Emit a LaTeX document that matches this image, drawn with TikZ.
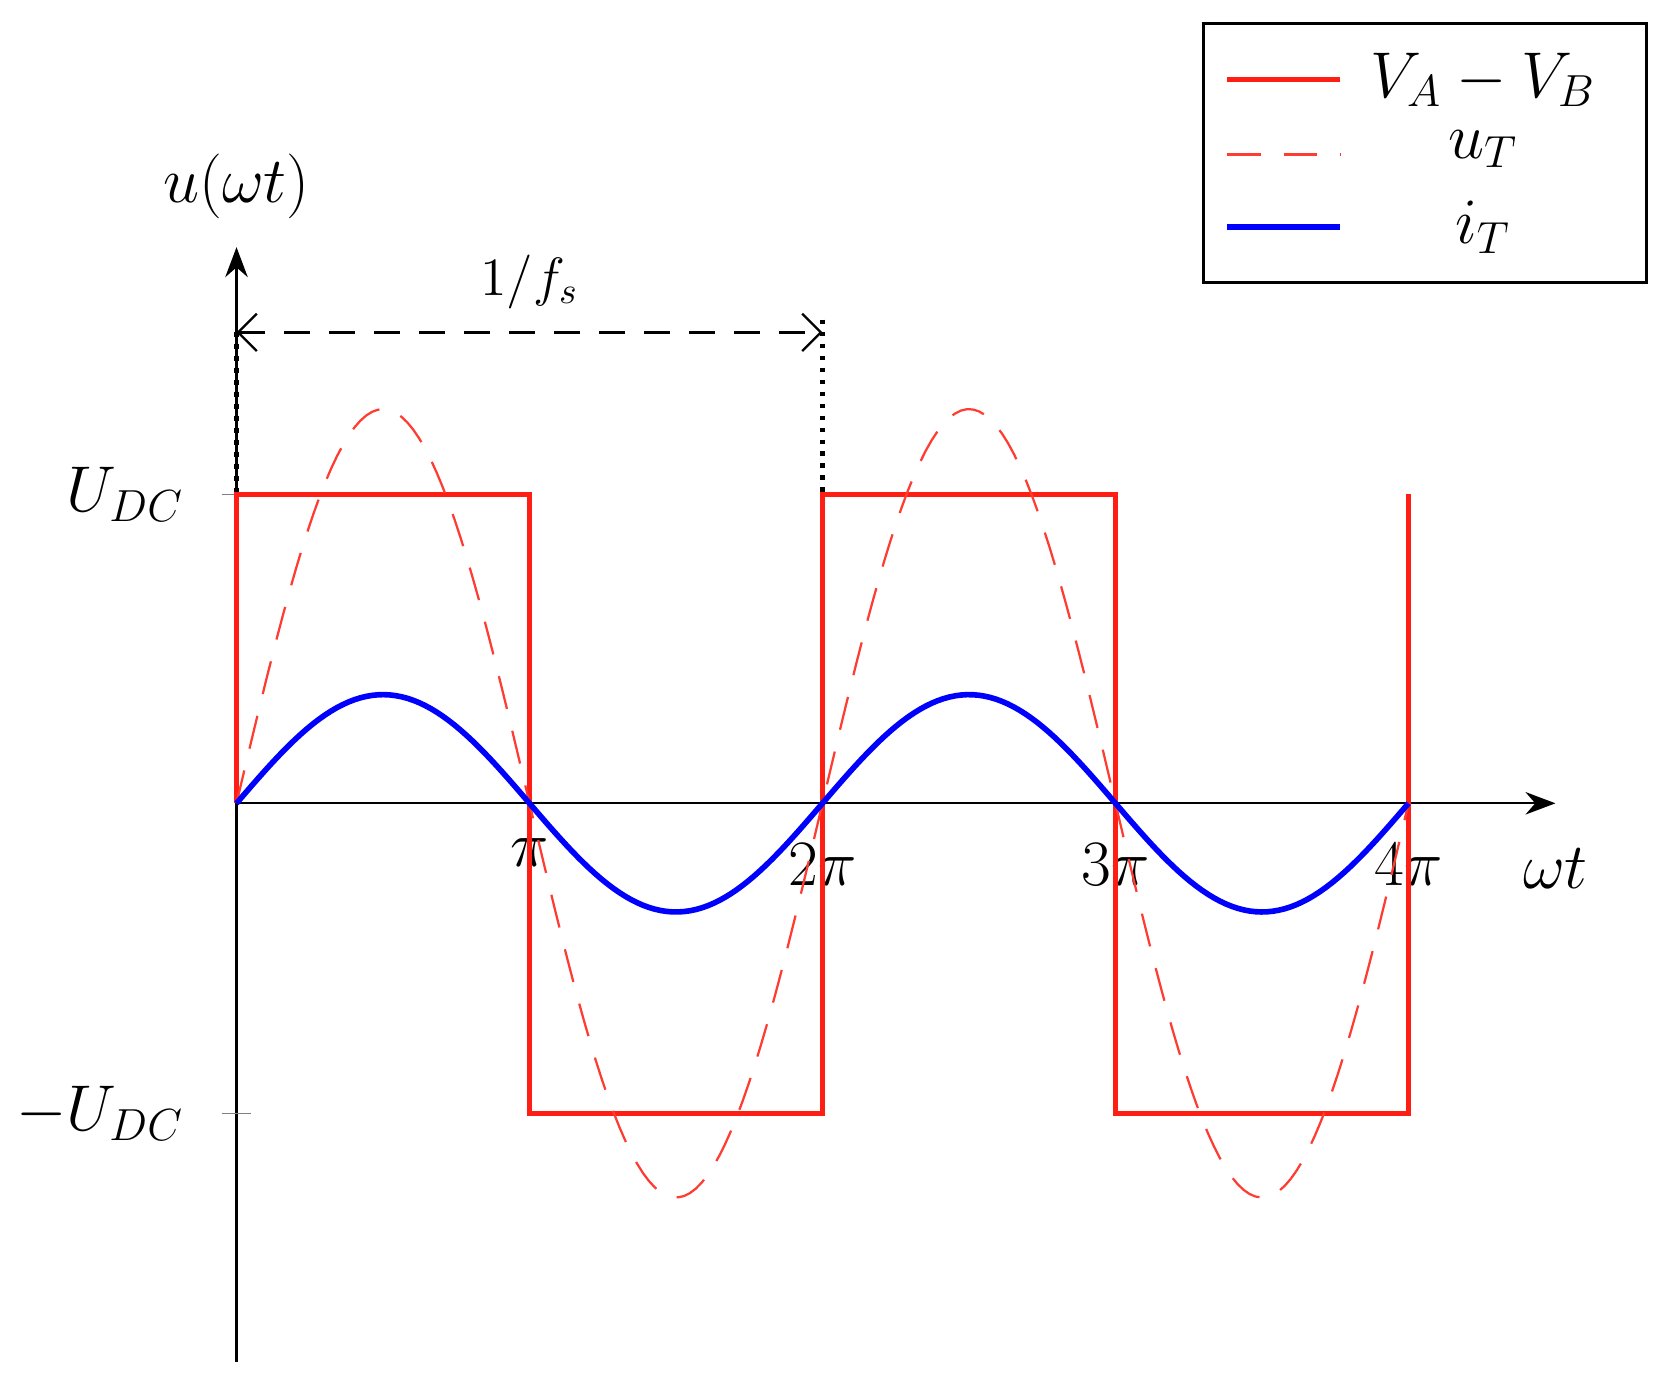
\documentclass[tikz,border=0pt]{standalone}
\usetikzlibrary{arrows.meta}
\begin{document}
\begin{tikzpicture}[x=0.01cm,y=-0.01cm,
  lbl/.style={font=\fontsize{17}{20}\selectfont},
  sq/.style={red!90!black!80!red,line width=1.3pt,color={rgb,255:red,255;green,30;blue,20}},
  ut/.style={color={rgb,255:red,255;green,60;blue,50},dashed,dash pattern=on 9pt off 6pt,line width=0.6pt},
  it/.style={blue,line width=1.5pt}]
\useasboundingbox (0,0) rectangle (1560,1291);
% axes
\coordinate (o) at (222,754);
\coordinate (yb) at (222,1278);
\coordinate (yt) at (222,232);
\coordinate (xe) at (1460,754);
\draw[-{Stealth[length=8pt]},line width=0.6pt] (yb) -- (yt);
\draw[-{Stealth[length=8pt]},line width=0.6pt] (o) -- (xe);
\node[lbl] (yl) at (222,175) {$u(\omega t)$};
\node[lbl] (xl) at (1460,815) {$\omega t$};
\node[lbl] (p1) at (497,800) {$\pi$};
\node[lbl] (p2) at (772,812) {$2\pi$};
\node[lbl] (p3) at (1047,812) {$3\pi$};
\node[lbl] (p4) at (1322,812) {$4\pi$};
\draw[gray,line width=0.4pt] (208,464) -- (236,464);
\draw[gray,line width=0.4pt] (208,1045) -- (236,1045);
\node[lbl,anchor=east] (u1) at (185,464) {$U_{DC}$};
\node[lbl,anchor=east] (u2) at (185,1045) {$-U_{DC}$};
% period marker
\coordinate (d1) at (222,312);
\coordinate (d2) at (772,312);
\draw[dashed,dash pattern=on 7pt off 5pt,{Straight Barb[length=5pt]}-{Straight Barb[length=5pt]},line width=0.6pt] (d1) -- (d2);
\node[font=\fontsize{14}{17}\selectfont] (fs) at (497,265) {$1/f_s$};
\draw[dotted,line width=1.2pt] (222,312) -- (222,754);
\draw[dotted,line width=1.2pt] (772,300) -- (772,754);
% square wave
\draw[sq] (222,754) -- (222,464) -- (497,464) -- (497,1045) -- (772,1045) -- (772,464) -- (1047,464) -- (1047,1045) -- (1322,1045) -- (1322,464);
% dashed sine
\draw[ut] plot[domain=0:1100,samples=200] ({222+\x},{754-370*sin(\x/550*360)});
% current
\draw[it] plot[domain=0:1100,samples=200] ({222+\x},{754-102*sin(\x/550*360)});
% legend
\draw[line width=0.8pt] (1130,22) rectangle (1545,265);
\draw[sq] (1152,75) -- (1258,75);
\draw[ut] (1152,145) -- (1258,145);
\draw[it] (1152,213) -- (1258,213);
\node[lbl] (l1) at (1392,75) {$V_A-V_B$};
\node[lbl] (l2) at (1392,140) {$u_T$};
\node[lbl] (l3) at (1392,213) {$i_T$};
\end{tikzpicture}
\end{document}
